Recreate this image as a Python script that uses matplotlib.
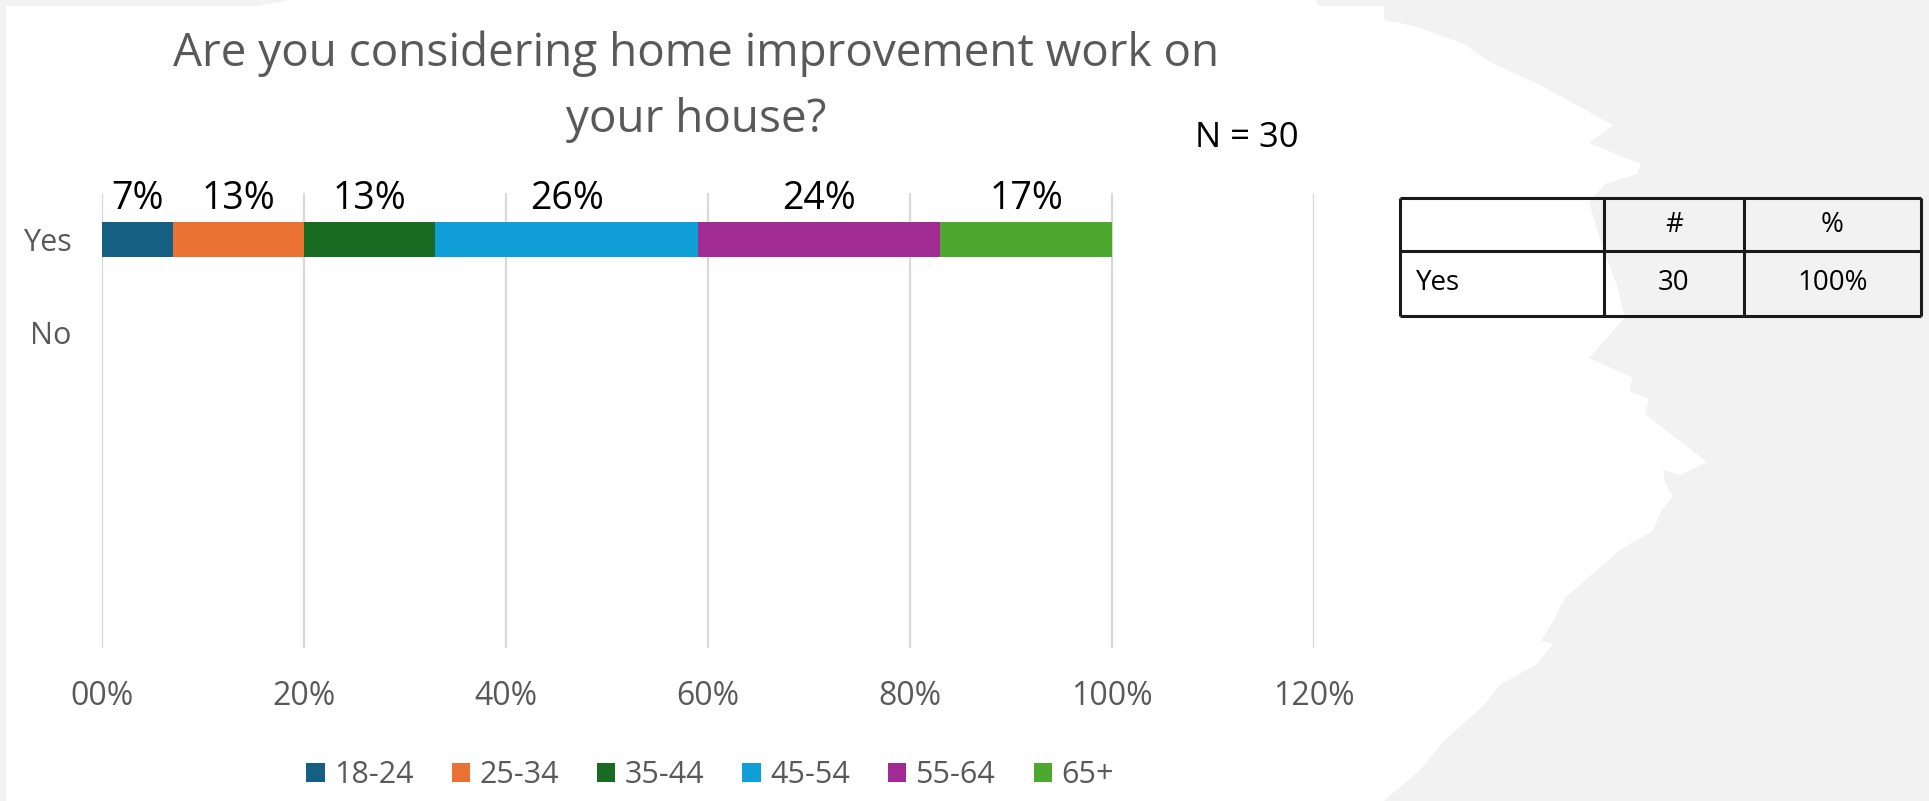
import numpy as np
import matplotlib.pyplot as plt
from matplotlib.patches import Polygon

plt.rcParams['font.family'] = ['Open Sans', 'DejaVu Sans']

# data
categories = ["Yes", "No"]
age_groups = ["18-24", "25-34", "35-44", "45-54", "55-64", "65+"]
yes_pct = [7, 13, 13, 26, 24, 17]
no_pct = [0, 0, 0, 0, 0, 0]
colors = ["#156082", "#E97132", "#196B24", "#0F9ED5", "#A02B93", "#4EA72E"]
xticks = [0, 20, 40, 60, 80, 100, 120]
xtick_labels = ["00%", "20%", "40%", "60%", "80%", "100%", "120%"]

title_lines = ["Are you considering home improvement work on", "your house?"]
n_text = "N = 30"

table_header = ["", "#", "%"]
table_row = ["Yes", "30", "100%"]

W, H = 1929, 801
fig = plt.figure(figsize=(W / 100, H / 100), dpi=100)
fig.patch.set_facecolor("#f2f2f2")

# white torn-paper background (pixel coords, y from top)
paper = [(6, 801), (6, 6), (258, 6), (290, 0), (1316, 0), (1318, 6), (1384, 6),
         (1384, 20), (1414, 26), (1464, 44), (1488, 61), (1540, 85), (1613, 125),
         (1589, 143), (1641, 164), (1637, 174), (1605, 184), (1589, 202),
         (1600, 240), (1617, 286), (1625, 317), (1589, 358), (1633, 378),
         (1629, 391), (1649, 399), (1645, 414), (1685, 445), (1707, 462),
         (1681, 475), (1663, 470), (1665, 483), (1673, 496), (1661, 511),
         (1653, 531), (1621, 549), (1565, 598), (1553, 621), (1541, 641),
         (1553, 644), (1537, 664), (1500, 685), (1484, 705), (1444, 741),
         (1420, 770), (1384, 801)]
paper = [(x / W, 1 - y / H) for x, y in paper]
fig.patches.append(Polygon(paper, closed=True, facecolor="white",
                           edgecolor="none", transform=fig.transFigure, zorder=-5))

ax = fig.add_axes([102 / W, 1 - 648 / H, (1314 - 102) / W, (648 - 193) / H])
ax.patch.set_alpha(0)

ypos = np.arange(len(categories))
left_yes = np.concatenate([[0], np.cumsum(yes_pct)[:-1]])
left_no = np.concatenate([[0], np.cumsum(no_pct)[:-1]])
bars = []
for i in range(len(age_groups)):
    b = ax.barh(ypos, [yes_pct[i], no_pct[i]], left=[left_yes[i], left_no[i]],
                height=0.376, color=colors[i], label=age_groups[i], zorder=3)
    bars.append(b)
    ax.annotate(f"{yes_pct[i]}%", xy=(left_yes[i] + yes_pct[i] / 2, 0),
                xytext=(0, 22), textcoords="offset points", ha="center",
                va="baseline", fontsize=27, color="black")

ax.set_xlim(0, 120)
ax.set_ylim(4.39, -0.505)
ax.set_xticks(xticks)
ax.set_xticklabels(xtick_labels)
ax.set_yticks(ypos)
ax.set_yticklabels(categories)
ax.tick_params(axis="x", length=0, pad=23, labelsize=23, labelcolor="#595959")
ax.tick_params(axis="y", length=0, pad=22, labelsize=22, labelcolor="#595959")
ax.grid(axis="x", color="#d9d9d9", linewidth=1.6, zorder=0)
ax.set_axisbelow(True)
for s in ax.spines.values():
    s.set_visible(False)

fig.legend(handles=bars, labels=age_groups, loc="center",
           bbox_to_anchor=(710 / W, 1 - 775 / H), ncol=6, frameon=False,
           fontsize=22, labelcolor="#595959", handlelength=0.6,
           handleheight=0.6, handletextpad=0.3, columnspacing=1.25)

for k, line in enumerate(title_lines):
    fig.text(696 / W, 1 - (66 + 66 * k) / H, line, ha="center", va="baseline",
             fontsize=33, color="#595959")
fig.text(1195 / W, 1 - 147 / H, n_text, ha="left", va="baseline", fontsize=25,
         color="black")

# summary table
col_edges = [0, 204, 344, 521]
row_edges = [0, 53, 118]
tax = fig.add_axes([1400 / W, 1 - 316 / H, 521 / W, 118 / H])
tax.set_xlim(0, 521)
tax.set_ylim(118, 0)
tax.axis("off")
tax.hlines(row_edges, 0, 521, color="#1a1a1a", linewidth=2.2, clip_on=False)
tax.vlines(col_edges, 0, 118, color="#1a1a1a", linewidth=2.2, clip_on=False)
for rows, (top, bot) in zip([table_header, table_row],
                            [(0, 53), (53, 118)]):
    yc = (top + bot) / 2
    for j, txt in enumerate(rows):
        if j == 0:
            tax.text(col_edges[0] + 16, yc, txt, ha="left", va="center",
                     fontsize=20, color="black")
        else:
            tax.text((col_edges[j] + col_edges[j + 1]) / 2, yc, txt,
                     ha="center", va="center", fontsize=20, color="black")

plt.savefig("out.png", dpi=100, facecolor=fig.get_facecolor())
